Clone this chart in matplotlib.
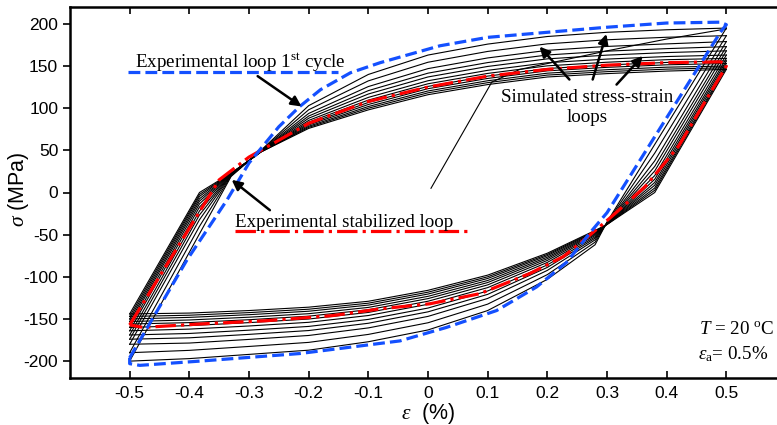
import numpy as np
import matplotlib
matplotlib.use("Agg")
import matplotlib.pyplot as plt

plt.rcParams['font.family'] = ['Liberation Sans', 'DejaVu Sans']
plt.rcParams['mathtext.fontset'] = 'custom'
plt.rcParams['mathtext.rm'] = 'Liberation Serif'
plt.rcParams['mathtext.it'] = 'Liberation Serif:italic'

# experimental 1st cycle loop (blue dashed)
blue_x = [-0.5, -0.404, -0.337, -0.3, -0.25, -0.215, -0.18, -0.13, -0.08, 0.02, 0.1, 0.2, 0.3, 0.4, 0.49, 0.5,
          0.49, 0.3, 0.276, 0.232, 0.182, 0.115, 0.031, -0.047, -0.215, -0.383, -0.483, -0.5, -0.5]
blue_y = [-196, -80, -9, 35, 78, 102, 122, 142, 154, 174, 184, 190, 196, 201, 202, 199,
          190, -24, -44, -83, -112, -140, -160, -176, -191, -200, -205, -203, -196]

# experimental stabilized loop (red dash-dot)
red_x = [-0.5, -0.35, -0.3, -0.2, -0.1, 0.0, 0.1, 0.2, 0.3, 0.4, 0.49, 0.5,
         0.5, 0.42, 0.364, 0.307, 0.267, 0.227, 0.171, 0.087, 0.003, -0.08, -0.16, -0.27, -0.383, -0.478, -0.5]
red_y = [-157, 15, 42, 82, 108, 125, 138, 146, 151, 154, 155, 152,
         150, 55, 7, -29, -53, -76, -96, -120, -132, -138, -146, -152, -156, -160, -157]

# simulated loops: outermost and innermost branches
up_x = [-0.5, -0.383, -0.33, -0.28, -0.2, -0.1, 0.0, 0.1, 0.2, 0.3, 0.4, 0.5]
up_outer = [-200, -49, 19, 50, 103, 140, 163, 176, 185, 190, 193, 195]
up_inner = [-144, 0, 23, 48, 76, 98, 116, 128, 137, 141, 144, 146]
lo_x = [0.5, 0.38, 0.3, 0.28, 0.2, 0.1, 0.0, -0.1, -0.2, -0.3, -0.4, -0.5]
lo_outer = [195, 57, -35, -62, -103, -140, -163, -177, -187, -192, -197, -200]
lo_inner = [146, 0, -38, -45, -72, -98, -116, -129, -136, -140, -143, -144]
# peak stresses of each simulated cycle
tips_max = [195, 186, 179, 173, 168, 163, 159, 156, 153, 150, 148, 146]
tips_min = [-200, -190, -180, -174, -169, -164, -160, -156, -153, -150, -147, -144]

# initial monotonic loading of the simulation
mono_x = [0.005, 0.107, 0.154, 0.3, 0.4, 0.5]
mono_y = [5, 131, 146, 168, 182, 194]

fig = plt.figure(figsize=(7.77, 4.25), dpi=100)
ax = fig.add_axes([70/777, 47/425, 716/777, 371/425])

up_outer, up_inner = np.array(up_outer), np.array(up_inner)
lo_outer, lo_inner = np.array(lo_outer), np.array(lo_inner)
for hi, lo in zip(tips_max, tips_min):
    w = 0.5*((hi - tips_max[-1])/(tips_max[0] - tips_max[-1]) + (lo - tips_min[-1])/(tips_min[0] - tips_min[-1]))
    up = up_inner + w*(up_outer - up_inner)
    dn = lo_inner + w*(lo_outer - lo_inner)
    up[0], up[-1] = lo, hi
    dn[0], dn[-1] = hi, lo
    ax.plot(up_x, up, color='black', lw=0.8)
    ax.plot(lo_x, dn, color='black', lw=0.8)
ax.plot(mono_x, mono_y, color='black', lw=0.8)

ax.plot(red_x, red_y, color='#ff0000', lw=2.3, ls='-.')
ax.plot(blue_x, blue_y, color='#1450ff', lw=2.3, ls='--')

serif = dict(family='Liberation Serif', fontsize=13.7)
# legend-like labels
ax.plot([-0.503, -0.151], [143, 143], color='#1450ff', lw=2.3, ls='--')
ax.text(-0.491, 149, r'Experimental loop 1$^{\rm st}$ cycle', **serif)
ax.plot([-0.324, 0.073], [-46, -46], color='#ff0000', lw=2.3, ls='-.')
ax.text(-0.324, -41, 'Experimental stabilized loop', **serif)
ax.text(0.266, 101, 'Simulated stress-strain\nloops', ha='center', va='center', linespacing=1.2, **serif)
ax.text(0.454, -162, r'$T$ = 20 $^{\rm o}$C', va='center', **serif)
ax.text(0.452, -192, r'$\varepsilon_{\rm a}$= 0.5%', va='center', **serif)

arrow = dict(arrowstyle='-|>', color='black', lw=1.8, mutation_scale=15, shrinkA=0, shrinkB=0)
ax.annotate('', xy=(-0.212, 102), xytext=(-0.2855, 138), arrowprops=arrow)
ax.annotate('', xy=(-0.329, 15), xytext=(-0.265, -21), arrowprops=arrow)
ax.annotate('', xy=(0.187, 173), xytext=(0.237, 134), arrowprops=arrow)
ax.annotate('', xy=(0.299, 188), xytext=(0.276, 134), arrowprops=arrow)
ax.annotate('', xy=(0.36, 162), xytext=(0.316, 128), arrowprops=arrow)

ax.set_xlim(-0.6, 0.6)
ax.set_ylim(-220, 220)
ax.set_xticks(np.arange(-0.5, 0.51, 0.1))
ax.set_xticklabels(['-0.5', '-0.4', '-0.3', '-0.2', '-0.1', '0', '0.1', '0.2', '0.3', '0.4', '0.5'])
ax.set_yticks(np.arange(-200, 201, 50))
ax.set_yticklabels([str(v) for v in range(-200, 201, 50)])
ax.tick_params(axis='x', direction='in', top=True, length=5, width=1.2, labelsize=12.5, pad=6)
ax.tick_params(axis='y', direction='out', length=5, width=1.2, labelsize=12.5)
for s in ax.spines.values():
    s.set_linewidth(1.8)
ax.set_xlabel(r'$\varepsilon$  (%)', fontsize=15.5, labelpad=0)
ax.set_ylabel(r'$\sigma$ (MPa)', fontsize=15.5)
ax.yaxis.set_label_coords(-0.055, 0.51)

fig.savefig('out.png', dpi=100)
